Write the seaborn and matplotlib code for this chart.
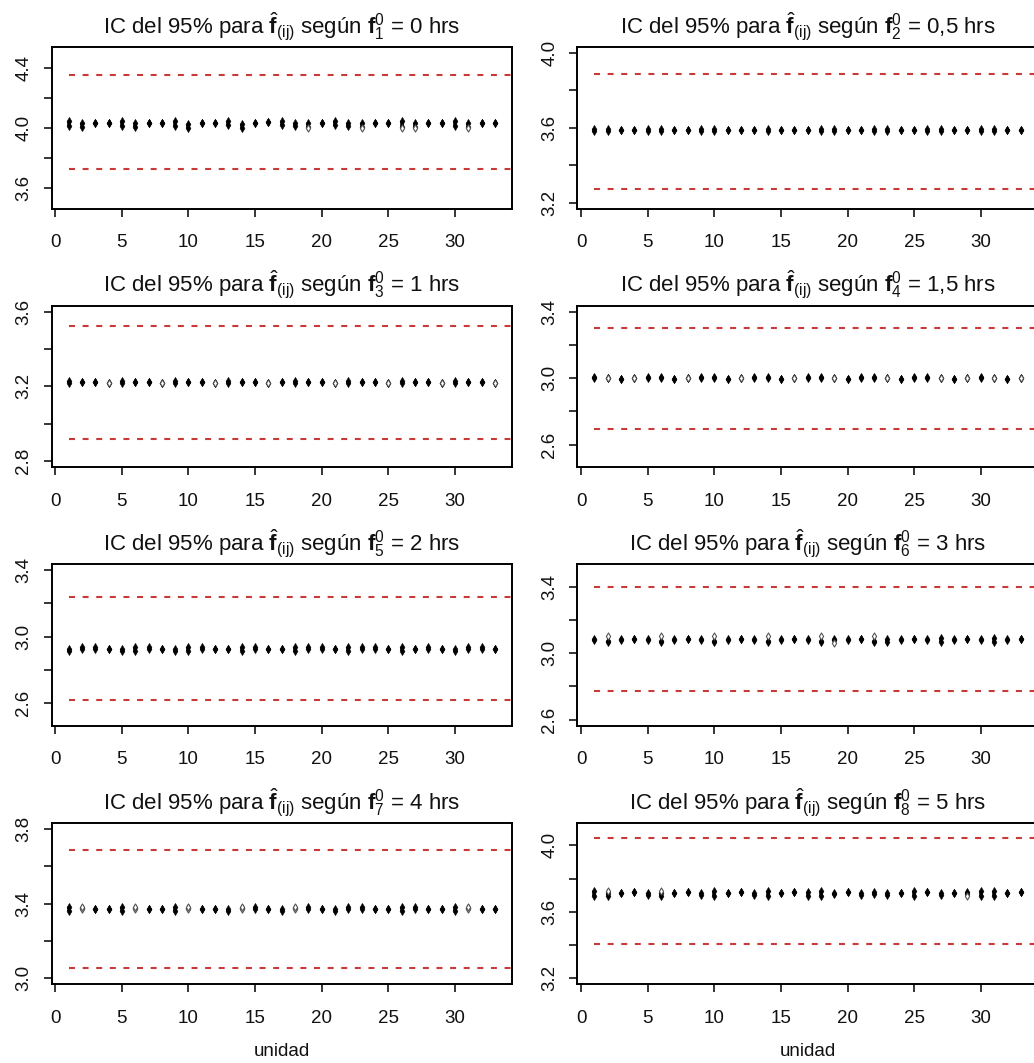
import matplotlib
matplotlib.use("Agg")
import numpy as np
import pandas as pd
import matplotlib.pyplot as plt
import seaborn as sns

# ---------------------------------------------------------------- data
unidades = list(range(1, 34))

# f1 = 0 hrs
f1_bajo = [4.013, 4.002, 4.031, 4.031, 4.013, 4.002, 4.031, 4.031, 4.013, 4.000, 4.031,
           4.031, 4.020, 4.000, 4.031, 4.036, 4.020, 4.013, 4.002, 4.031, 4.020, 4.013,
           4.002, 4.031, 4.031, 4.005, 4.002, 4.031, 4.031, 4.013, 4.002, 4.031, 4.031]
f1_alto = [4.047, 4.031, 4.031, 4.031, 4.047, 4.031, 4.031, 4.031, 4.047, 4.025, 4.031,
           4.031, 4.047, 4.025, 4.031, 4.036, 4.047, 4.031, 4.031, 4.031, 4.047, 4.031,
           4.031, 4.031, 4.031, 4.047, 4.031, 4.031, 4.031, 4.047, 4.031, 4.031, 4.031]
f1_abierto_u = [19, 23, 26, 27, 31]
f1_abierto_v = [3.996, 3.996, 3.998, 3.996, 3.996]
f1_ic = [3.726, 4.353]

# f2 = 0,5 hrs
f2_bajo = [3.583, 3.583, 3.587, 3.587, 3.583, 3.583, 3.587, 3.587, 3.583, 3.583, 3.587,
           3.587, 3.587, 3.583, 3.587, 3.587, 3.587, 3.583, 3.583, 3.587, 3.587, 3.583,
           3.583, 3.587, 3.587, 3.583, 3.583, 3.587, 3.587, 3.583, 3.583, 3.587, 3.587]
f2_alto = [3.594, 3.594, 3.587, 3.587, 3.594, 3.594, 3.587, 3.587, 3.594, 3.594, 3.587,
           3.587, 3.587, 3.594, 3.587, 3.587, 3.587, 3.594, 3.594, 3.587, 3.587, 3.594,
           3.594, 3.587, 3.587, 3.594, 3.594, 3.587, 3.587, 3.594, 3.594, 3.587, 3.587]
f2_abierto_u = []
f2_abierto_v = []
f2_ic = [3.272, 3.888]

# f3 = 1 hrs
f3_bajo = [3.217, 3.221, 3.221, 3.219, 3.217, 3.221, 3.221, 3.219, 3.217, 3.221, 3.221,
           3.219, 3.217, 3.221, 3.221, 3.219, 3.221, 3.217, 3.221, 3.221, 3.219, 3.217,
           3.221, 3.221, 3.219, 3.217, 3.221, 3.221, 3.219, 3.217, 3.221, 3.221, 3.219]
f3_alto = [3.229, 3.221, 3.221, 3.219, 3.229, 3.221, 3.221, 3.219, 3.229, 3.221, 3.221,
           3.219, 3.229, 3.221, 3.221, 3.219, 3.221, 3.229, 3.221, 3.221, 3.219, 3.229,
           3.221, 3.221, 3.219, 3.229, 3.221, 3.221, 3.219, 3.229, 3.221, 3.221, 3.219]
f3_abierto_u = [4, 8, 12, 16, 21, 25, 29, 33]
f3_abierto_v = [3.219, 3.219, 3.219, 3.219, 3.219, 3.219, 3.219, 3.219]
f3_ic = [2.916, 3.521]

# f4 = 1,5 hrs
f4_bajo = [3.002, 3.000, 2.992, 3.000, 3.002, 3.002, 2.992, 3.000, 3.002, 3.002, 2.992,
           3.000, 3.002, 3.002, 2.992, 3.000, 3.002, 3.002, 3.000, 2.992, 3.002, 3.002,
           3.000, 2.992, 3.002, 3.002, 3.000, 2.992, 3.000, 3.002, 3.000, 2.992, 3.000]
f4_alto = [3.007, 3.000, 2.994, 3.000, 3.007, 3.007, 2.994, 3.000, 3.007, 3.007, 2.994,
           3.000, 3.007, 3.007, 2.994, 3.000, 3.007, 3.007, 3.000, 2.994, 3.007, 3.007,
           3.000, 2.994, 3.007, 3.007, 3.000, 2.994, 3.000, 3.007, 3.000, 2.994, 3.000]
f4_abierto_u = [2, 4, 8, 12, 16, 19, 23, 27, 29, 31, 33]
f4_abierto_v = [3.000, 3.000, 3.000, 3.000, 3.000, 3.000, 3.000, 3.000, 3.000, 3.000, 3.000]
f4_ic = [2.691, 3.299]

# f5 = 2 hrs
f5_bajo = [2.912, 2.925, 2.925, 2.925, 2.914, 2.915, 2.925, 2.925, 2.914, 2.915, 2.925,
           2.925, 2.925, 2.915, 2.925, 2.925, 2.925, 2.915, 2.925, 2.925, 2.925, 2.915,
           2.925, 2.925, 2.925, 2.915, 2.925, 2.925, 2.925, 2.914, 2.925, 2.925, 2.925]
f5_alto = [2.928, 2.935, 2.935, 2.925, 2.926, 2.935, 2.935, 2.925, 2.926, 2.935, 2.935,
           2.925, 2.925, 2.935, 2.935, 2.925, 2.925, 2.935, 2.935, 2.935, 2.925, 2.935,
           2.935, 2.935, 2.925, 2.935, 2.925, 2.935, 2.925, 2.926, 2.935, 2.935, 2.925]
f5_abierto_u = []
f5_abierto_v = []
f5_ic = [2.616, 3.241]

# f6 = 3 hrs
f6_bajo = [3.080, 3.066, 3.080, 3.088, 3.080, 3.066, 3.080, 3.088, 3.080, 3.066, 3.080,
           3.088, 3.080, 3.066, 3.080, 3.088, 3.080, 3.066, 3.080, 3.080, 3.088, 3.066,
           3.066, 3.080, 3.088, 3.080, 3.066, 3.080, 3.088, 3.080, 3.066, 3.080, 3.088]
f6_alto = [3.087, 3.075, 3.087, 3.088, 3.087, 3.075, 3.087, 3.088, 3.087, 3.075, 3.087,
           3.088, 3.087, 3.075, 3.087, 3.088, 3.087, 3.075, 3.087, 3.087, 3.088, 3.075,
           3.085, 3.087, 3.088, 3.087, 3.093, 3.087, 3.088, 3.087, 3.093, 3.087, 3.088]
f6_abierto_u = [2, 6, 10, 14, 18, 19, 22]
f6_abierto_v = [3.104, 3.104, 3.104, 3.104, 3.104, 3.062, 3.104]
f6_ic = [2.773, 3.400]

# f7 = 4 hrs
f7_bajo = [3.362, 3.375, 3.372, 3.372, 3.362, 3.375, 3.372, 3.372, 3.362, 3.375, 3.372,
           3.372, 3.362, 3.375, 3.372, 3.372, 3.362, 3.375, 3.372, 3.372, 3.362, 3.372,
           3.372, 3.372, 3.372, 3.362, 3.372, 3.372, 3.372, 3.362, 3.375, 3.372, 3.372]
f7_alto = [3.380, 3.375, 3.372, 3.372, 3.380, 3.375, 3.372, 3.372, 3.380, 3.375, 3.372,
           3.372, 3.371, 3.375, 3.380, 3.372, 3.371, 3.375, 3.380, 3.372, 3.371, 3.380,
           3.380, 3.372, 3.372, 3.380, 3.380, 3.372, 3.372, 3.380, 3.375, 3.372, 3.372]
f7_abierto_u = [2, 2, 6, 6, 10, 10, 14, 14, 18, 18, 31, 31]
f7_abierto_v = [3.369, 3.380, 3.369, 3.380, 3.369, 3.380, 3.369, 3.380, 3.369, 3.380, 3.369, 3.380]
f7_ic = [3.054, 3.685]

# f8 = 5 hrs
f8_bajo = [3.698, 3.698, 3.713, 3.720, 3.700, 3.698, 3.713, 3.720, 3.700, 3.698, 3.713,
           3.720, 3.700, 3.698, 3.713, 3.720, 3.698, 3.698, 3.706, 3.720, 3.700, 3.706,
           3.700, 3.713, 3.698, 3.720, 3.700, 3.713, 3.710, 3.698, 3.698, 3.713, 3.720]
f8_alto = [3.725, 3.712, 3.713, 3.720, 3.712, 3.712, 3.713, 3.720, 3.712, 3.725, 3.713,
           3.720, 3.712, 3.725, 3.713, 3.720, 3.718, 3.725, 3.716, 3.720, 3.712, 3.720,
           3.712, 3.713, 3.725, 3.720, 3.712, 3.713, 3.720, 3.725, 3.725, 3.713, 3.720]
f8_abierto_u = [2, 6, 29]
f8_abierto_v = [3.727, 3.727, 3.695]
f8_ic = [3.404, 4.044]

titulos = [
    r"IC del 95% para $\hat{\mathbf{f}}_{\mathrm{(ij)}}$ según $\mathbf{f}_{1}^{0}$ = 0 hrs",
    r"IC del 95% para $\hat{\mathbf{f}}_{\mathrm{(ij)}}$ según $\mathbf{f}_{2}^{0}$ = 0,5 hrs",
    r"IC del 95% para $\hat{\mathbf{f}}_{\mathrm{(ij)}}$ según $\mathbf{f}_{3}^{0}$ = 1 hrs",
    r"IC del 95% para $\hat{\mathbf{f}}_{\mathrm{(ij)}}$ según $\mathbf{f}_{4}^{0}$ = 1,5 hrs",
    r"IC del 95% para $\hat{\mathbf{f}}_{\mathrm{(ij)}}$ según $\mathbf{f}_{5}^{0}$ = 2 hrs",
    r"IC del 95% para $\hat{\mathbf{f}}_{\mathrm{(ij)}}$ según $\mathbf{f}_{6}^{0}$ = 3 hrs",
    r"IC del 95% para $\hat{\mathbf{f}}_{\mathrm{(ij)}}$ según $\mathbf{f}_{7}^{0}$ = 4 hrs",
    r"IC del 95% para $\hat{\mathbf{f}}_{\mathrm{(ij)}}$ según $\mathbf{f}_{8}^{0}$ = 5 hrs",
]

# y range of each panel (before the 4 % padding) and its tick span
rangos_y = [(3.5, 4.5), (3.2, 4.0), (2.8, 3.6), (2.5, 3.4),
            (2.5, 3.4), (2.6, 3.5), (3.0, 3.8), (3.2, 4.1)]
ticks_y = [(3.6, 4.4), (3.2, 4.0), (2.8, 3.6), (2.6, 3.4),
           (2.6, 3.4), (2.6, 3.4), (3.0, 3.8), (3.2, 4.0)]
ticks_x = [0, 5, 10, 15, 20, 25, 30]

paneles = [
    (f1_bajo, f1_alto, f1_abierto_u, f1_abierto_v, f1_ic),
    (f2_bajo, f2_alto, f2_abierto_u, f2_abierto_v, f2_ic),
    (f3_bajo, f3_alto, f3_abierto_u, f3_abierto_v, f3_ic),
    (f4_bajo, f4_alto, f4_abierto_u, f4_abierto_v, f4_ic),
    (f5_bajo, f5_alto, f5_abierto_u, f5_abierto_v, f5_ic),
    (f6_bajo, f6_alto, f6_abierto_u, f6_abierto_v, f6_ic),
    (f7_bajo, f7_alto, f7_abierto_u, f7_abierto_v, f7_ic),
    (f8_bajo, f8_alto, f8_abierto_u, f8_abierto_v, f8_ic),
]

# ---------------------------------------------------------------- style
sns.set_theme(style="white")
plt.rcParams["font.family"] = ["Liberation Sans", "DejaVu Sans"]
plt.rcParams["mathtext.fontset"] = "custom"
plt.rcParams["mathtext.rm"] = "Liberation Sans"
plt.rcParams["mathtext.it"] = "Liberation Sans:italic"
plt.rcParams["mathtext.bf"] = "Liberation Sans:bold"
plt.rcParams["lines.scale_dashes"] = False

W, H = 1034, 1063
fig = plt.figure(figsize=(W / 100, H / 100), dpi=100)
fig.patch.set_facecolor("white")

ax_w, ax_h = 460.5, 161.5
lefts = [51.5, 577.3]
tops = [47.0, 305.6, 564.2, 822.8]

for k, (bajo, alto, ab_u, ab_v, ic) in enumerate(paneles):
    fila, col = divmod(k, 2)
    ax = fig.add_axes([lefts[col] / W, 1 - (tops[fila] + ax_h) / H, ax_w / W, ax_h / H])
    ax.set_facecolor("white")

    # dashed interval limits
    ax.hlines(ic, 1, 40, colors="#c83a3a", linestyles=(0, (4.3, 5.5)), linewidth=1.5, zorder=1)

    # stacked estimates per unit
    ax.vlines(unidades, bajo, alto, colors="black", linewidth=2.6, zorder=2)
    df = pd.DataFrame({"unidad": unidades + unidades, "f": bajo + alto})
    sns.scatterplot(data=df, x="unidad", y="f", marker="d", s=17, color="black",
                    edgecolor="black", linewidth=0.4, ax=ax, legend=False, zorder=3)
    if ab_u:
        sns.scatterplot(x=ab_u, y=ab_v, marker="d", s=13, facecolor="white",
                        edgecolor="#555555", linewidth=0.8, ax=ax, legend=False, zorder=3)

    lo, hi = rangos_y[k]
    pad = 0.04 * (hi - lo)
    ax.set_ylim(lo - pad, hi + pad)
    ax.set_xlim(1 - 0.04 * 32, 33 + 0.04 * 32)

    t0, t1 = ticks_y[k]
    yt = np.round(np.arange(t0, t1 + 1e-9, 0.2), 1)
    ax.set_yticks(yt)
    ax.set_yticklabels([f"{v:.1f}" if i % 2 == 0 else "" for i, v in enumerate(yt)])
    ax.set_xticks(ticks_x)
    ax.set_xticklabels([str(v) for v in ticks_x])

    for s in ax.spines.values():
        s.set_visible(True)
        s.set_color("black")
        s.set_linewidth(1.4)

    ax.tick_params(axis="both", which="major", direction="out", length=5.8, width=1.1,
                   color="black", labelsize=13.5, labelcolor="#111111", left=True, bottom=True)
    ax.tick_params(axis="x", pad=12.5)
    ax.tick_params(axis="y", pad=8, labelrotation=90)
    for lab in ax.get_yticklabels():
        lab.set_verticalalignment("center")

    ax.set_xlabel("unidad" if fila == 3 else "", fontsize=13.5, labelpad=12, color="#111111")
    ax.set_ylabel("")
    ax.set_title(titulos[k], fontsize=16, pad=10, color="#111111")

fig.savefig("out.png", dpi=100, facecolor="white")
